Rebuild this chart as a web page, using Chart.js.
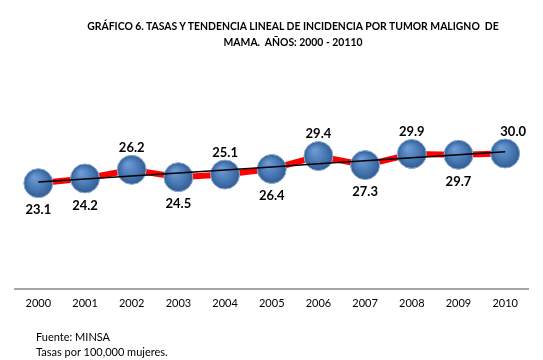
<!DOCTYPE html>
<html>
<head>
<meta charset="utf-8">
<script src="https://cdn.jsdelivr.net/npm/chart.js@4.4.1/dist/chart.umd.min.js"></script>
<style>
  html, body { margin: 0; padding: 0; background: #fff; }
  #wrap { position: relative; width: 543px; height: 360px; overflow: hidden; }
  #c { position: absolute; left: 0; top: 0; }
  .title { position: absolute; left: 0; width: 586px; text-align: center; font-family: Lato, "Open Sans", sans-serif; font-weight: bold; font-size: 10.4px; color: #000; line-height: 16px; top: 18px; white-space: nowrap; }
  .foot { position: absolute; left: 36px; font-family: Lato, "Open Sans", sans-serif; font-size: 11px; color: #000; line-height: 15px; top: 329px; }
</style>
</head>
<body>
<div id="wrap">
  <canvas id="c" width="543" height="360"></canvas>
  <div class="title">GRÁFICO 6. TASAS Y TENDENCIA LINEAL DE INCIDENCIA POR TUMOR MALIGNO&nbsp; DE<br>MAMA.&nbsp; AÑOS: 2000 - 20110</div>
  <div class="foot">Fuente: MINSA<br>Tasas por 100,000 mujeres.</div>
</div>
<script>
const years = ['2000','2001','2002','2003','2004','2005','2006','2007','2008','2009','2010'];
const rates = [23.1, 24.2, 26.2, 24.5, 25.1, 26.4, 29.4, 27.3, 29.9, 29.7, 30.0];
const labelSide = ['below','below','above','below','above','below','above','below','above','below','above'];

// Linear trend (least squares) of the rates, as in the original "tendencia lineal"
const n = rates.length;
const mx = (n - 1) / 2;
const my = rates.reduce((a, b) => a + b, 0) / n;
let sxy = 0, sxx = 0;
rates.forEach((v, i) => { sxy += (i - mx) * (v - my); sxx += (i - mx) * (i - mx); });
const slope = sxy / sxx;
const trend = rates.map((v, i) => my + slope * (i - mx));

const spherePlugin = {
  id: 'spheres',
  afterDatasetDraw(chart, args) {
    if (args.index !== 0) return;
    const ctx = chart.ctx;
    const meta = chart.getDatasetMeta(0);
    meta.data.forEach(pt => {
      const x = pt.x, y = pt.y, r = 14.5;
      ctx.save();
      const g = ctx.createRadialGradient(x - 4, y - 6, 1, x, y, r);
      g.addColorStop(0, '#6E9AD0');
      g.addColorStop(0.55, '#4B7BB8');
      g.addColorStop(1, '#335C90');
      ctx.beginPath();
      ctx.arc(x, y, r, 0, Math.PI * 2);
      ctx.fillStyle = g;
      ctx.fill();
      ctx.lineWidth = 1;
      ctx.strokeStyle = '#8FB0DA';
      ctx.stroke();
      ctx.restore();
    });
  }
};

const labelPlugin = {
  id: 'valueLabels',
  afterDatasetsDraw(chart) {
    const ctx = chart.ctx;
    const meta = chart.getDatasetMeta(0);
    ctx.save();
    ctx.font = 'bold 13px Lato, "Open Sans", sans-serif';
    ctx.fillStyle = '#000';
    ctx.textAlign = 'center';
    ctx.textBaseline = 'middle';
    meta.data.forEach((pt, i) => {
      const dy = labelSide[i] === 'above' ? -22 : 27;
      const dx = i === n - 1 ? 8 : 0;
      ctx.fillText(rates[i].toFixed(1), pt.x + dx, pt.y + dy);
    });
    ctx.restore();
  }
};

new Chart(document.getElementById('c'), {
  type: 'line',
  data: {
    labels: years,
    datasets: [
      {
        label: 'Tasa',
        data: rates,
        borderColor: '#FF0000',
        borderWidth: 6,
        pointRadius: 14.5,
        pointHoverRadius: 14.5,
        pointBackgroundColor: '#4B7BB8',
        pointBorderWidth: 0,
        tension: 0,
        clip: false,
        order: 2
      },
      {
        label: 'Tendencia',
        data: trend,
        borderColor: '#000000',
        borderWidth: 1.5,
        pointRadius: 0,
        tension: 0,
        clip: false,
        order: 1
      }
    ]
  },
  options: {
    responsive: false,
    animation: false,
    events: [],
    layout: { padding: { left: 15, right: 14, top: 132, bottom: 0 } },
    plugins: { legend: { display: false }, tooltip: { enabled: false }, title: { display: false } },
    scales: {
      x: {
        offset: true,
        grid: { display: false, drawTicks: false },
        border: { display: true, color: '#A6A6A6', width: 2 },
        ticks: { color: '#000', font: { family: 'Lato, "Open Sans", sans-serif', size: 11 }, padding: 8, maxRotation: 0, autoSkip: false },
        afterFit(s) { s.height = 71; }
      },
      y: { display: false, min: -1.5, max: 35 }
    }
  },
  plugins: [spherePlugin, labelPlugin]
});
</script>
</body>
</html>
